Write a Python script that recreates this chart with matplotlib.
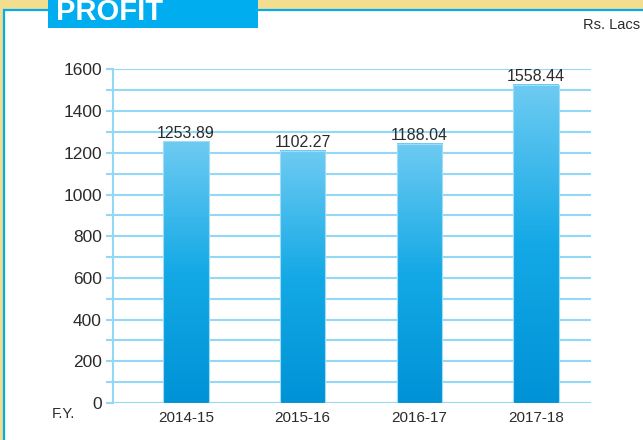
import numpy as np
import matplotlib
matplotlib.use("Agg")
import matplotlib.pyplot as plt
from matplotlib.patches import Rectangle
from matplotlib.colors import LinearSegmentedColormap

plt.rcParams['font.family'] = ['Liberation Sans Narrow', 'Liberation Sans', 'DejaVu Sans']

# data
years = ['2014-15', '2015-16', '2016-17', '2017-18']
profit = [1253.89, 1102.27, 1188.04, 1558.44]     # printed labels
bar_heights = [1256, 1211, 1243, 1528]            # heights as drawn in the picture
yticks = [0, 200, 400, 600, 800, 1000, 1200, 1400, 1600]

grid_col = '#93d9f7'
txt_col = '#2b2b2b'
gold = '#f3dd8e'
blue = '#00aeef'

fig = plt.figure(figsize=(6.43, 4.4), dpi=100)
fig.patch.set_facecolor('white')

# frame: gold band on top and left, thin blue line inside
fig.patches.append(Rectangle((0, 1 - 9/440), 1, 9/440, transform=fig.transFigure,
                             facecolor=gold, edgecolor='none', zorder=0))
fig.patches.append(Rectangle((0, 0), 3/643, 1, transform=fig.transFigure,
                             facecolor=gold, edgecolor='none', zorder=0))
fig.patches.append(Rectangle((3.5/643, -0.1), 1.2, 1 - 10/440 + 0.1, transform=fig.transFigure,
                             facecolor='none', edgecolor=blue, linewidth=1.6, zorder=1))

# title box
fig.patches.append(Rectangle((48/643, 1 - 28/440), 210/643, 28/440, transform=fig.transFigure,
                             facecolor=blue, edgecolor='none', zorder=2))
fig.text(56/643, 1 - 20/440, 'PROFIT', color='white', fontsize=21, fontweight='bold',
         ha='left', va='baseline', zorder=3)
fig.text(640/643, 1 - 29/440, 'Rs. Lacs', color=txt_col, fontsize=10.5, ha='right', va='baseline')
fig.text(52/643, 1 - 418/440, 'F.Y.', color=txt_col, fontsize=10.5, ha='left', va='baseline')

ax = fig.add_axes([113/643, 37/440, 478/643, 333.5/440])
ax.set_xlim(-0.625, 3.47)
ax.set_ylim(0, 1600)

for s in ['top', 'right', 'bottom']:
    ax.spines[s].set_visible(False)
ax.spines['left'].set_color(grid_col)
ax.spines['left'].set_linewidth(1.5)

ax.set_yticks(yticks)
ax.set_yticks(range(100, 1600, 200), minor=True)
ax.tick_params(axis='y', which='both', length=5, width=1.5, color=grid_col,
               labelsize=12.5, labelcolor=txt_col, pad=3)
ax.yaxis.grid(True, which='both', color=grid_col, linewidth=1.5)
ax.set_axisbelow(True)

x = np.arange(len(years))
ax.set_xticks(x)
ax.set_xticklabels(years)
ax.tick_params(axis='x', length=0, labelsize=11, labelcolor=txt_col, pad=6)

cmap = LinearSegmentedColormap.from_list('barblue', ['#0092d6', '#14a9e6', '#6ecbf2'])
grad = np.linspace(0, 1, 256).reshape(-1, 1)
w = 0.39
for xi, h, v in zip(x, bar_heights, profit):
    ax.imshow(grad, cmap=cmap, origin='lower', aspect='auto',
              extent=(xi - w/2, xi + w/2, 0, h), zorder=2)
    ax.add_patch(Rectangle((xi - w/2, 0), w, h, facecolor='none',
                           edgecolor='#9fdcf6', linewidth=0.8, zorder=3))
    ax.text(xi, h + 3, '%.2f' % v, ha='center', va='bottom', fontsize=11.5, color=txt_col, zorder=4)

ax.set_xlim(-0.625, 3.47)
ax.set_ylim(0, 1600)

fig.savefig('out.png', dpi=100)
